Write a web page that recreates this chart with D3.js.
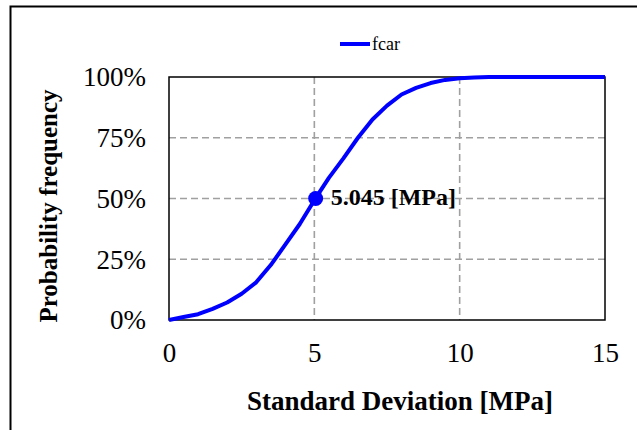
<!DOCTYPE html>
<html>
<head>
<meta charset="utf-8">
<script src="https://cdn.jsdelivr.net/npm/d3@7"></script>
<style>
  html, body { margin: 0; padding: 0; background: #fff; }
  svg { display: block; }
  svg text { font-family: "Liberation Serif", "Times New Roman", serif; fill: #000; }
</style>
</head>
<body>
<svg id="chart" width="637" height="430"></svg>
<script>
  // standard deviation [MPa] vs cumulative probability (%)
  const sdValues = [0, 0.5, 1, 1.5, 2, 2.5, 3, 3.5, 4, 4.5, 5, 5.5, 6, 6.5, 7, 7.5, 8, 8.5, 9, 9.5, 10, 10.5, 11, 11.5, 12, 12.5, 13, 13.5, 14, 14.5, 15];
  const probValues = [0, 1.2, 2.4, 4.6, 7.2, 10.8, 15.5, 22.6, 31, 39.5, 49.3, 58.5, 66.5, 75, 82.5, 88.2, 92.8, 95.5, 97.5, 98.8, 99.5, 99.8, 100, 100, 100, 100, 100, 100, 100, 100, 100];
  const markerPoint = [5.045, 50];
  const markerLabel = '5.045 [MPa]';
  const xTicks = [0, 5, 10, 15];
  const yTicks = [0, 25, 50, 75, 100];
  const seriesName = 'fcar';

  let svg = d3.select('#chart');
  let plot = { left: 169, top: 77, right: 605, bottom: 320 };

  let x = d3.scaleLinear().domain([0, 15]).range([plot.left, plot.right]);
  let y = d3.scaleLinear().domain([0, 100]).range([plot.bottom, plot.top]);

  // outer frame (only top/left visible)
  svg.append('path')
    .attr('d', 'M10.5,430 V6.5 H637')
    .attr('fill', 'none')
    .attr('stroke', '#000')
    .attr('stroke-width', 2);

  // grid
  svg.append('g').selectAll('line').data(yTicks.filter(d => d > 0 && d < 100)).enter()
    .append('line')
    .attr('x1', plot.left).attr('x2', plot.right)
    .attr('y1', d => y(d)).attr('y2', d => y(d))
    .attr('stroke', '#a0a0a0').attr('stroke-width', 1.6)
    .attr('stroke-dasharray', '7,4');
  svg.append('g').selectAll('line').data(xTicks.filter(d => d > 0 && d < 15)).enter()
    .append('line')
    .attr('x1', d => x(d)).attr('x2', d => x(d))
    .attr('y1', plot.top).attr('y2', plot.bottom)
    .attr('stroke', '#a0a0a0').attr('stroke-width', 1.6)
    .attr('stroke-dasharray', '7,4');

  // plot border
  svg.append('rect')
    .attr('x', plot.left).attr('y', plot.top)
    .attr('width', plot.right - plot.left).attr('height', plot.bottom - plot.top)
    .attr('fill', 'none').attr('stroke', '#000').attr('stroke-width', 1.5);

  // axes (labels only)
  let xAxis = svg.append('g')
    .attr('transform', 'translate(0,' + (plot.bottom + 18) + ')')
    .call(d3.axisBottom(x).tickValues(xTicks).tickSize(0).tickPadding(0));
  xAxis.attr('font-family', null).attr('font-size', null);
  xAxis.select('.domain').remove();
  xAxis.selectAll('text')
    .style('font-size', '27px')
    .attr('dy', '0.9em');

  let yAxis = svg.append('g')
    .attr('transform', 'translate(' + 146 + ',0)')
    .call(d3.axisLeft(y).tickValues(yTicks).tickSize(0).tickPadding(0).tickFormat(d => d + '%'));
  yAxis.attr('font-family', null).attr('font-size', null);
  yAxis.select('.domain').remove();
  yAxis.selectAll('text')
    .style('font-size', '27px')
    .attr('dy', '0.33em');

  // series
  let line = d3.line().x(d => x(d[0])).y(d => y(d[1]));
  svg.append('path')
    .datum(d3.zip(sdValues, probValues))
    .attr('d', line)
    .attr('fill', 'none')
    .attr('stroke', '#0000ff')
    .attr('stroke-width', 4)
    .attr('stroke-linejoin', 'round');

  // marker + annotation
  svg.append('circle')
    .attr('cx', x(markerPoint[0])).attr('cy', y(markerPoint[1]))
    .attr('r', 7.5).attr('fill', '#0000ff');
  svg.append('text')
    .attr('x', x(markerPoint[0]) + 15).attr('y', y(markerPoint[1]) + 6)
    .style('font-size', '24px').style('font-weight', 'bold')
    .text(markerLabel);

  // axis titles
  svg.append('text')
    .attr('x', 400).attr('y', 410)
    .attr('text-anchor', 'middle')
    .style('font-size', '27px').style('font-weight', 'bold')
    .text('Standard Deviation [MPa]');
  svg.append('text')
    .attr('transform', 'translate(57,206) rotate(-90)')
    .attr('text-anchor', 'middle')
    .style('font-size', '25px').style('font-weight', 'bold')
    .text('Probability frequency');

  // legend
  let legend = svg.append('g');
  legend.append('line')
    .attr('x1', 340).attr('x2', 370).attr('y1', 44).attr('y2', 44)
    .attr('stroke', '#0000ff').attr('stroke-width', 4);
  legend.append('text')
    .attr('x', 372).attr('y', 50)
    .style('font-size', '18px')
    .text(seriesName);
</script>
</body>
</html>
